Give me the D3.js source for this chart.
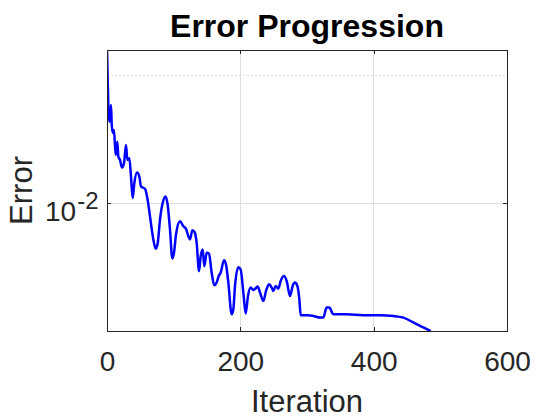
<!DOCTYPE html>
<html lang="en">
<head>
    <meta charset="UTF-8">
    <title>Error Progression</title>
    <script src="https://d3js.org/d3.v7.min.js"></script>
    <style>
        body { margin: 0; background: #fff; }
        text { font-family: "Liberation Sans", Arial, Helvetica, sans-serif; fill: #262626; }
        .axis path, .axis line { stroke: #262626; shape-rendering: crispEdges; }
        .grid line { stroke: #dfdfdf; shape-rendering: crispEdges; }
        .minor line { stroke: #dfdfdf; stroke-dasharray: 2,2; shape-rendering: crispEdges; }
    </style>
</head>
<body>
    <svg id="chart" width="560" height="420"></svg>

    <script>
        // iteration / error pairs
        const iterations = [0, 2, 3.5, 6, 7, 8.5, 10.5, 13, 15.5, 17, 19.5, 22.5, 25.5, 28.5, 30.5, 33.5, 36, 38.5,
            41, 45, 48.5, 51, 57, 60.5, 65.5, 69.5, 73, 76, 79.5, 83.5, 87.5, 91, 94.5, 98, 100.5, 103.5, 109.5,
            114.5, 118.5, 122, 124.5, 128, 131.5, 134.5, 138, 140.5, 143.5, 146, 149.5, 153, 157, 161, 164.5,
            167.5, 170.5, 175.5, 178.5, 182, 187, 189.5, 192, 197, 200.5, 204.5, 208, 211.5, 215.5, 219.5, 222,
            226, 229.5, 234.5, 238.5, 243, 247, 249.5, 253, 257, 260.5, 265.5, 269.5, 274.5, 278.5, 282, 285.5,
            288.5, 290.5, 302, 309.5, 319.5, 324.5, 329.5, 333.5, 339.5, 359.5, 384.5, 409.5, 429.5, 444.5,
            459.5, 474.5, 485.5];
        const errors = [0.0229, 0.01684, 0.01553, 0.01699, 0.01542, 0.01461, 0.01485, 0.01297, 0.01394, 0.01286,
            0.01263, 0.01212, 0.01241, 0.01369, 0.01263, 0.01275, 0.01154, 0.01027, 0.01114, 0.01179, 0.01154,
            0.01094, 0.0108, 0.01027, 0.009056, 0.008208, 0.007804, 0.008028, 0.00914, 0.01, 0.01036, 0.009908,
            0.00866, 0.007406, 0.007637, 0.008431, 0.009056, 0.008816, 0.008693, 0.008352, 0.008208, 0.008627,
            0.008535, 0.00806, 0.006914, 0.007497, 0.007774, 0.007103, 0.007637, 0.007609, 0.006855, 0.006405,
            0.006498, 0.006734, 0.006855, 0.007339, 0.00717, 0.006498, 0.005474, 0.005624, 0.006381, 0.007065,
            0.006978, 0.006157, 0.005495, 0.006046, 0.006326, 0.006244, 0.006278, 0.006361, 0.006157, 0.005885,
            0.006209, 0.006439, 0.006326, 0.006209, 0.006381, 0.00629, 0.006555, 0.006734, 0.006555, 0.006046,
            0.006381, 0.006498, 0.006381, 0.005939, 0.005445, 0.005445, 0.005424, 0.005377, 0.005377, 0.005676,
            0.005676, 0.005474, 0.005474, 0.005445, 0.005445, 0.005424, 0.005377, 0.005236, 0.005096, 0.005];
        const xTicks = [0, 200, 400, 600];
        const yTicks = [0.01];
        const yMinorGrid = [0.02];

        const data = iterations.map((it, i) => ({ it, err: errors[i] }));

        const svg = d3.select("#chart"),
              margin = {top: 50, right: 53, bottom: 89, left: 107},
              width = +svg.attr("width") - margin.left - margin.right,
              height = +svg.attr("height") - margin.top - margin.bottom;
        const g = svg.append("g").attr("transform", `translate(${margin.left},${margin.top})`);

        const x = d3.scaleLinear().domain([0, 600]).range([0, width]);
        const y = d3.scaleLog().domain(d3.extent(errors)).range([height, 0]);

        // grid
        g.append("g").attr("class", "grid").selectAll("line").data(xTicks.slice(1, -1)).enter().append("line")
            .attr("x1", d => x(d)).attr("x2", d => x(d)).attr("y1", 0).attr("y2", height);
        g.append("g").attr("class", "grid").selectAll("line").data(yTicks).enter().append("line")
            .attr("x1", 0).attr("x2", width).attr("y1", d => y(d)).attr("y2", d => y(d));
        g.append("g").attr("class", "minor").selectAll("line").data(yMinorGrid).enter().append("line")
            .attr("x1", 0).attr("x2", width).attr("y1", d => y(d)).attr("y2", d => y(d));

        // the curve
        svg.append("clipPath").attr("id", "clip").append("rect").attr("width", width).attr("height", height);
        const line = d3.line().x(d => x(d.it)).y(d => y(d.err)).curve(d3.curveMonotoneX);
        g.append("path").datum(data).attr("clip-path", "url(#clip)")
            .attr("d", line).attr("fill", "none").attr("stroke", "#0000ff").attr("stroke-width", 2.5)
            .attr("stroke-linejoin", "round");

        // box + ticks (inside)
        g.append("rect").attr("width", width).attr("height", height)
            .attr("fill", "none").attr("stroke", "#262626").attr("shape-rendering", "crispEdges");

        const xAxis = g.append("g").attr("class", "axis").attr("transform", `translate(0,${height})`)
            .call(d3.axisBottom(x).tickValues(xTicks).tickSizeInner(-4).tickSizeOuter(0).tickPadding(0));
        xAxis.select(".domain").remove();
        xAxis.selectAll("text").attr("y", 40).attr("dy", null).attr("font-size", 28).style("fill", "#262626");

        g.append("g").attr("class", "axis")
            .call(d3.axisTop(x).tickValues(xTicks).tickSizeInner(-4).tickSizeOuter(0).tickFormat(""))
            .select(".domain").remove();

        const yAxis = g.append("g").attr("class", "axis")
            .call(d3.axisLeft(y).tickValues(yTicks).tickSizeInner(-4).tickSizeOuter(0).tickPadding(8.5).tickFormat(""));
        yAxis.select(".domain").remove();
        yAxis.selectAll(".tick text").each(function(d) {
            const t = d3.select(this).attr("y", 17.7).attr("dy", null).attr("font-size", 28).style("fill", "#262626");
            const p = Math.round(Math.log10(d));
            t.append("tspan").text("10");
            t.append("tspan").attr("dx", 1).attr("dy", -12.5).attr("font-size", 24).text(p < 0 ? "-" + (-p) : p);
        });

        g.append("g").attr("class", "axis").attr("transform", `translate(${width},0)`)
            .call(d3.axisRight(y).tickValues(yTicks).tickSizeInner(-4).tickSizeOuter(0).tickFormat(""))
            .select(".domain").remove();

        // labels
        svg.append("text").attr("x", margin.left + width / 2).attr("y", 36.7)
            .attr("text-anchor", "middle").attr("font-size", 32).attr("font-weight", "bold")
            .style("fill", "#000").text("Error Progression");
        svg.append("text").attr("x", margin.left + width / 2).attr("y", 411.7)
            .attr("text-anchor", "middle").attr("font-size", 31).text("Iteration");
        svg.append("text").attr("transform", `translate(32,${margin.top + height / 2}) rotate(-90)`)
            .attr("text-anchor", "middle").attr("font-size", 31).text("Error");
    </script>
</body>
</html>
